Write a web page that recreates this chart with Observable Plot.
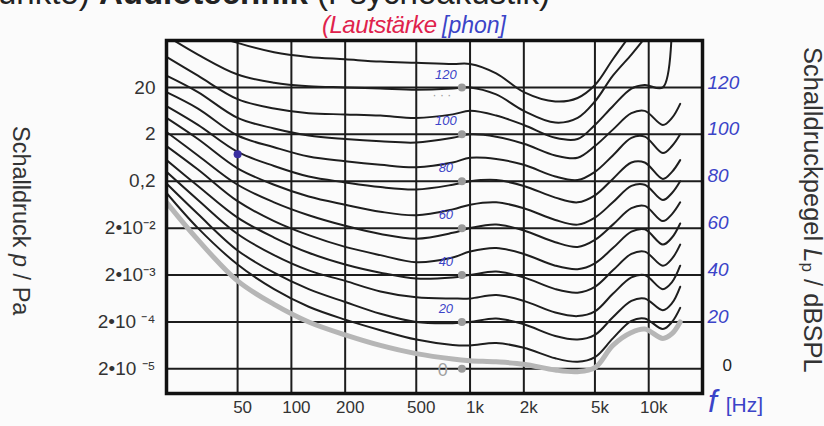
<!DOCTYPE html>
<html><head><meta charset="utf-8">
<script src="https://cdn.jsdelivr.net/npm/d3@7"></script>
<script src="https://cdn.jsdelivr.net/npm/@observablehq/plot@0.6"></script>
<style>
body{margin:0;background:#fbfbfb;width:824px;height:426px;overflow:hidden;position:relative;font-family:"Liberation Sans",Arial,sans-serif}
#chart{position:absolute;left:0;top:0}
.ov{position:absolute;white-space:nowrap}
.hand{font-family:"Liberation Sans Narrow","Liberation Sans",sans-serif;font-style:italic}
</style></head><body>
<div id="chart"></div>
<div class="ov" style="left:-2px;top:-24px;font-size:33px;line-height:33px;color:#222">unkte) <b>Audiotechnik</b> (Psychoakustik)</div>
<div class="ov hand" style="left:322px;top:13px;font-size:24px;line-height:24px;color:#e0224c;letter-spacing:-0.5px">(Lautstärke</div>
<div class="ov hand" style="left:442px;top:13px;font-size:23px;line-height:24px;color:#3b44c8">[phon]</div>
<div class="ov" style="left:7px;top:126px;font-size:23.5px;line-height:28px;color:#333;writing-mode:vertical-rl">Schalldruck <i>p</i> / Pa</div>
<div class="ov" style="left:792px;top:47px;font-size:25.5px;line-height:30px;color:#333;writing-mode:vertical-rl">Schalldruckpegel <i>L</i><sub style="font-size:17px">p</sub> / dBSPL</div>
<div class="ov hand" style="left:708px;top:384px;font-size:32px;line-height:34px;color:#3b44c8">f <span style="font-size:21px;font-style:normal">[Hz]</span></div>
<script>
// frequencies (Hz) at which the contours were read
const freqs = [20, 30, 50, 80, 125, 200, 315, 500, 800, 1000, 1400, 2000, 3000, 4000, 5000, 6300, 8000, 9500, 12000, 13500, 15000];
// hearing threshold (grey curve), dB SPL
const threshold = [71, 55, 37.5, 27.5, 20, 14.5, 10, 6.5, 4.2, 3.5, 3, 2, -0.5, -1.2, 0.5, 10, 15.5, 17, 13, 15, 20];
// equal-loudness contours, dB SPL
const phon10  = [75, 60, 44.5, 34, 26.5, 21, 16.5, 12.5, 10.2, 10, 11, 9, 4.5, 3, 5, 13, 20.5, 21.5, 17, 20, 26];
const phon20  = [79, 66, 50.5, 41, 34, 28.5, 23.5, 20, 19.5, 20, 21.5, 19, 14, 12.5, 14.5, 22, 29, 30, 25, 28, 35];
const phon30  = [84, 72, 57.5, 48.5, 42, 37.5, 33, 30.5, 30, 30, 31.5, 29, 24, 22.5, 24.5, 32, 39, 40, 34, 37, 44];
const phon40  = [89, 78, 64.5, 56, 49.5, 44.5, 41, 38.5, 39, 40, 41.5, 39, 34, 32.5, 35, 42, 49, 50, 44, 47, 53];
const phon50  = [95, 85, 71.5, 63, 57, 52, 48.5, 45.5, 47.5, 50, 51.5, 49, 44, 42.5, 45, 51.5, 58.5, 59.5, 53, 56, 62];
const phon60  = [101, 91, 78.5, 71, 65.5, 61, 57.5, 55.5, 58, 60, 61.5, 59, 54, 52, 55, 61.5, 68.5, 69.5, 63, 66, 71];
const phon70  = [107, 98, 85.5, 78.5, 73.5, 70, 67, 65.5, 68, 70, 71, 68.5, 63.5, 61.5, 64.5, 71, 78, 78.5, 72, 75, 80];
const phon80  = [112, 104, 92.5, 86.5, 82, 79.5, 77.5, 76.5, 78.5, 80, 80.5, 78, 73, 71, 74, 81, 88, 88, 81, 84, 89];
const phon90  = [118, 111, 99.5, 94.5, 90.5, 88.5, 87, 86, 88, 90, 89.5, 87, 82, 80.5, 84, 91, 98.5, 99, 92, 95, 100];
const phon100 = [125, 118, 107, 102.5, 99.5, 98, 97, 96.5, 98.5, 100, 99, 96, 91, 90, 95, 102, 109, 110, 104, 107, 113];
const phon110 = [133, 125, 115, 111, 109, 108.5, 108, 107, 108.5, 110, 108, 104, 98.5, 98, 104, 112, 119.5, 121, 120, 150, null];
const phon120 = [142, 134, 125.5, 122, 120.5, 120, 119.5, 119, 119.5, 120, 117, 110, 105, 107, 114, 125, 134, 141, null, null, null];
const phon130 = [152, 145, 139, 135, 133, 132, 131, 130.5, 130, 130, 126, 118, 114, 115.5, 121, 132, 143, null, null, null, null];
const levels = [10, 20, 30, 40, 50, 60, 70, 80, 90, 100, 110, 120, 130];
const contours = [phon10, phon20, phon30, phon40, phon50, phon60, phon70, phon80, phon90, phon100, phon110, phon120, phon130];

// grid / ticks
const gridDb = [0, 20, 40, 60, 80, 100, 120];
const paLabels = ["2•10 ⁻⁵", "2•10 ⁻⁴", "2•10⁻³", "2•10⁻²", "0,2", "2", "20"];
const gridF = [50, 100, 200, 500, 1000, 2000, 5000, 10000];
const fLabels = ["50", "100", "200", "500", "1k", "2k", "5k", "10k"];
const dotFreq = 900;           // grey reference dots (1 kHz markers)
const penMark = [{f: 50, db: 91.5}]; // stray blue pen dot

const paMap = new Map(gridDb.map((d, i) => [d, paLabels[i]]));
const fMap = new Map(gridF.map((d, i) => [d, fLabels[i]]));

const rows = [];
contours.forEach((vals, k) => vals.forEach((v, i) => {
  if (v != null) rows.push({f: freqs[i], db: v, level: levels[k]});
}));
const tRows = threshold.map((v, i) => ({f: freqs[i], db: v}));
const dots = gridDb.map(d => ({f: dotFreq, db: d}));

const blue = "#3b44c8";
const chart = Plot.plot({
  width: 824, height: 426,
  marginLeft: 166, marginRight: 122, marginTop: 40, marginBottom: 33,
  style: {background: "transparent", fontFamily: "Liberation Sans, Arial, sans-serif", fontSize: "17px", overflow: "visible"},
  x: {type: "log", domain: [20, 20000], axis: null},
  y: {domain: [-10.5, 140], axis: null},
  marks: [
    Plot.ruleY(gridDb, {stroke: "#1c1c1c", strokeWidth: 2}),
    Plot.ruleX(gridF, {stroke: "#1c1c1c", strokeWidth: 2}),
    Plot.line(tRows, {x: "f", y: "db", stroke: "#b6b6b6", strokeWidth: 5, curve: "catmull-rom", clip: true}),
    Plot.line(rows, {x: "f", y: "db", z: "level", stroke: "#1e1e1e", strokeWidth: 2, curve: "catmull-rom", clip: true}),
    Plot.dot(dots, {x: "f", y: "db", r: 4, fill: "#9a9a9a"}),
    Plot.text(dots.slice(1), {x: "f", y: "db", text: d => String(d.db), dx: -16, dy: -13, fill: blue, fontSize: 13, fontStyle: "italic"}),
    Plot.text(dots.slice(0, 1), {x: "f", y: "db", text: d => String(d.db), dx: -19, dy: 1, fill: "#a0a0a0", fontSize: 18}),
    Plot.text(dots.slice(6), {x: "f", y: "db", text: () => "· · ·", dx: -20, dy: 8, fill: "#999", fontSize: 12}),
    Plot.dot(penMark, {x: "f", y: "db", r: 4, fill: "#3a2fa0"}),
    Plot.frame({stroke: "#111", strokeWidth: 3.5}),
    Plot.text(gridF, {x: d => d, text: d => fMap.get(d), frameAnchor: "bottom", dy: 19, dx: 5, fontSize: 17, fill: "#333"}),
    Plot.text(gridDb, {y: d => d, text: d => paMap.get(d), frameAnchor: "left", dx: -11, textAnchor: "end", fontSize: 19, fill: "#333"}),
    Plot.text(gridDb.slice(1), {y: d => d, text: d => String(d), frameAnchor: "right", dx: 5, dy: -5, textAnchor: "start", fontSize: 19, fontStyle: "italic", fill: blue}),
    Plot.text([0], {y: d => d, text: d => String(d), frameAnchor: "right", dx: 20, dy: -3, textAnchor: "start", fontSize: 17, fill: "#222"})
  ]
});
document.getElementById("chart").appendChild(chart);
</script>
</body></html>
